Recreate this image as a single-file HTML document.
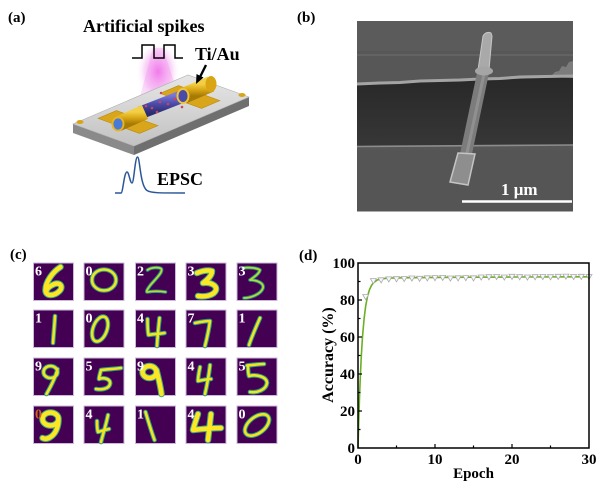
<!DOCTYPE html>
<html><head><meta charset="utf-8"><style>
html,body{margin:0;padding:0;background:#fff;}
svg{display:block;}
text{font-family:"Liberation Serif",serif;font-weight:bold;}
.o{fill:none;stroke:#2a9a8a;stroke-width:4.6;stroke-linecap:round;stroke-linejoin:round;}
.i{fill:none;stroke:#f2e51f;stroke-width:2.6;stroke-linecap:round;stroke-linejoin:round;}
.ot{fill:none;stroke:#3fae7e;stroke-width:6.5;stroke-linecap:round;stroke-linejoin:round;}
.it{fill:none;stroke:#fde725;stroke-width:4.5;stroke-linecap:round;stroke-linejoin:round;}
.on{fill:none;stroke:#23888e;stroke-width:3.6;stroke-linecap:round;stroke-linejoin:round;}
.in{fill:none;stroke:#b5de2b;stroke-width:1.8;stroke-linecap:round;stroke-linejoin:round;}
.lb{fill:#fff;font-size:14px;}
</style></head><body>
<svg width="600" height="484" viewBox="0 0 600 484" xmlns="http://www.w3.org/2000/svg">
<defs>
  <linearGradient id="top" x1="0" y1="0" x2="0" y2="1">
    <stop offset="0" stop-color="#e6e6e6"/><stop offset="1" stop-color="#c2c2c2"/>
  </linearGradient>
  <linearGradient id="gold" x1="0" y1="0" x2="0" y2="1">
    <stop offset="0" stop-color="#f3cf45"/><stop offset="0.5" stop-color="#d9a514"/><stop offset="1" stop-color="#a57a05"/>
  </linearGradient>
  <linearGradient id="nw" x1="0" y1="0" x2="0" y2="1">
    <stop offset="0" stop-color="#7a78d8"/><stop offset="0.5" stop-color="#4a4aa8"/><stop offset="1" stop-color="#2c2c70"/>
  </linearGradient>
  <radialGradient id="glow" cx="0.5" cy="0.4" r="0.5">
    <stop offset="0" stop-color="#f060e8" stop-opacity="0.85"/><stop offset="0.6" stop-color="#f3a0ee" stop-opacity="0.45"/><stop offset="1" stop-color="#ffffff" stop-opacity="0"/>
  </radialGradient>
  <linearGradient id="trench" x1="0" y1="0" x2="0" y2="1">
    <stop offset="0" stop-color="#282828"/><stop offset="1" stop-color="#373737"/>
  </linearGradient>
  <path id="tri" d="M-3,-2.2 L3,-2.2 L0,2.9 Z"/>
  <path id="d11" d="M27,4 C19,9 12,19 12,27 C12,34 21,33 26,28 C30,24 27,19 21,21 C16,23 13,26 13,28"/>
  <path id="d12" d="M8,17 A12,10.5 0 1,0 32,17 A12,10.5 0 1,0 8,17"/>
  <path id="d13" d="M12,7 C16,4 24,4 26,6 C27,10 20,16 15,22 C12,26 10,29 12,29 C18,28 24,28 30,29"/>
  <path id="d14" d="M11,10 C16,8 22,7 26,8 C26,13 21,17 17,20 C24,19 31,22 30,27 C28,33 18,34 12,33"/>
  <path id="d15" d="M6,5 C12,4 20,5 23,7 C22,11 17,14 13,17 C20,17 27,20 26,25 C24,31 14,35 7,35"/>
  <path id="d21" d="M21.5,6 C21,15 20,25 19.5,33"/>
  <ellipse id="d22" cx="0" cy="0" rx="7" ry="13" transform="translate(16,19) rotate(20)"/>
  <path id="d23" d="M12,9 C12,15 12,20 13,25 C18,24 23,24 29,23 M24,8 C23,17 22,27 21.5,36"/>
  <path id="d24" d="M9,13 C14,12 20,11 24,11 C23,19 21,28 19,36"/>
  <path id="d25" d="M23,8 C19,17 15,26 12,35"/>
  <path id="d31" d="M10,14 A7,6 0 1,0 24,14 A7,6 0 1,0 10,14 M24,11 C22,20 17,29 13,36"/>
  <path id="d32" d="M17,12 C24,11 31,11 37,10 M17,12 C16,16 15,19 15,21 C20,19 27,21 26,26 C25,31 17,32 12,31"/>
  <path id="d33" d="M7,14 A7,6 0 1,0 21,14 A7,6 0 1,0 7,14 M21,12 C23,20 25,28 26,36"/>
  <path id="d34" d="M14,9 C13,14 12,19 12,23 C17,22 21,21 25,21 M24,7 C23,17 21,27 19,36"/>
  <path id="d35" d="M10,7.5 C16,7 22,6 27,6 M11,8 C11,12 11,15 12,18 C20,16 30,19 30,25 C29,32 20,35 13,34"/>
  <path id="d41" d="M9,13 A8,6.5 0 1,0 25,13 A8,6.5 0 1,0 9,13 M25,13 C25,21 22,28 17,31 C14,33 11,33 9,32"/>
  <path id="d42" d="M13,15 C13,19 13,23 14,26 C17,25 21,24 25,23 M24,9 C22,19 19,28 17,36"/>
  <path id="d43" d="M10,6 C13,16 16,26 19,34"/>
  <path id="d44" d="M12,8 C10,14 8,20 7,24 C16,23 26,22 35,22 M25,8 C24,17 23,26 22,34"/>
  <ellipse id="d45" cx="0" cy="0" rx="14" ry="8" transform="translate(20,19) rotate(-38)"/>
</defs>

<!-- ========== Panel (a) ========== -->
<text x="8" y="22" font-size="15">(a)</text>
<text x="83" y="32" font-size="18">Artificial spikes</text>
<text x="195" y="60" font-size="18">Ti/Au</text>
<text x="157" y="185" font-size="18">EPSC</text>
<ellipse cx="158" cy="78" rx="22" ry="32" fill="url(#glow)"/>
<polygon points="153,48 163,48 180,100 138,104" fill="#f080ea" opacity="0.25"/>
<polyline points="132,58 142,58 142,45 154,45 154,58 164,58 164,45 175,45 175,58 183,58" fill="none" stroke="#000" stroke-width="1.5"/>
<polygon points="73,124 134,146 134,155 73,133" fill="#8a8a8a"/>
<polygon points="134,146 249,97 249,106 134,155" fill="#6f6f6f"/>
<polygon points="73,124 134,146 249,97 188,75" fill="url(#top)" stroke="#b0b0b0" stroke-width="0.6"/>
<ellipse cx="80" cy="122" rx="3.5" ry="2" fill="#d8a514"/>
<ellipse cx="242" cy="95" rx="3.5" ry="2" fill="#d8a514"/>
<polygon points="158,125.6 139.5,133.4 98.1,118.4 116.5,110.6" fill="#d9a51a" stroke="#b78a0c" stroke-width="0.6"/>
<polygon points="219.9,100.6 201.5,108.4 160.1,93.4 178.5,85.6" fill="#d9a51a" stroke="#b78a0c" stroke-width="0.6"/>
<line x1="140" y1="113" x2="186" y2="95" stroke="url(#nw)" stroke-width="13"/>
<circle cx="152" cy="108" r="1.3" fill="#d04060"/><circle cx="160" cy="102" r="1.3" fill="#d04060"/>
<circle cx="168" cy="104" r="1.3" fill="#d04060"/><circle cx="175" cy="99" r="1.3" fill="#d04060"/>
<circle cx="157" cy="112" r="1.3" fill="#d04060"/><circle cx="146" cy="106" r="1.3" fill="#d04060"/>
<circle cx="182" cy="107" r="1.3" fill="#d04060"/><circle cx="161" cy="93" r="1.2" fill="#d04060"/>
<line x1="118" y1="124" x2="145" y2="112" stroke="url(#gold)" stroke-width="15"/>
<ellipse cx="118" cy="124" rx="6.5" ry="7.5" fill="#e8b520"/>
<ellipse cx="118" cy="124" rx="4.6" ry="5.6" fill="#4a7ad8"/>
<line x1="183" y1="96" x2="211" y2="84" stroke="url(#gold)" stroke-width="16"/>
<ellipse cx="183" cy="96" rx="6.5" ry="8" fill="#efc535"/>
<ellipse cx="183" cy="96" rx="4.6" ry="6" fill="#4a4aa8"/>
<ellipse cx="211" cy="84" rx="5.5" ry="8" fill="#d9a514"/>
<line x1="206" y1="65" x2="200" y2="77" stroke="#000" stroke-width="2.4"/>
<polygon points="196,84 196.5,74 203.5,77.5" fill="#000"/>
<path d="M115,193 L121,193 C123,193 124,172 127,172 C129,172 130,183 132,183 C134,183 135,157 137.5,157 C140,157 140,186 147,190.5 C151,193 158,193 185,193" fill="none" stroke="#2b579a" stroke-width="1.5"/>

<!-- ========== Panel (b) ========== -->
<text x="297" y="22" font-size="15">(b)</text>
<rect x="357" y="21" width="216" height="190.5" fill="#575757"/>
<rect x="357" y="21" width="216" height="30" fill="#5b5b5b"/>
<line x1="357" y1="55" x2="573" y2="55" stroke="#636363" stroke-width="2"/>
<rect x="357" y="150" width="216" height="61" fill="#555"/>
<polygon points="357,84 573,77 573,145 357,147" fill="url(#trench)"/>
<polygon points="550,77 555,72 559,71 562,66 566,67 569,62 573,61 573,78" fill="#7c7c7c"/>
<polyline points="357,84 380,83 400,82.5 420,81 440,80.5 460,80 480,79 500,78.5 520,77 545,76.5 573,76" fill="none" stroke="#a4a4a4" stroke-width="3"/>
<line x1="357" y1="146.5" x2="573" y2="145" stroke="#8c8c8c" stroke-width="1.6"/>
<polygon points="477,73 489,73 472,154 460,154" fill="#7c7c7c"/>
<line x1="484" y1="74" x2="467" y2="153" stroke="#909090" stroke-width="3"/>
<path d="M478,70 L483,36 Q486,31 491,33 L492,36 L489,70 Z" fill="#a9a9a9" stroke="#c6c6c6" stroke-width="1"/>
<ellipse cx="484" cy="71" rx="9" ry="4.5" fill="#a5a5a5"/>
<polygon points="458,153 475,154 468,185 450,182" fill="#8e8e8e" stroke="#c4c4c4" stroke-width="1.5"/>
<line x1="462" y1="201.5" x2="572" y2="201.5" stroke="#fff" stroke-width="2.6"/>
<text x="501" y="195" font-size="17" fill="#fff">1 μm</text>

<!-- ========== Panel (c) ========== -->
<text x="10" y="259" font-size="15">(c)</text>
<g stroke="#cbb9d8" stroke-width="1" fill="#440154">
  <rect x="33.5" y="263" width="40" height="37.5"/><rect x="84" y="263" width="40" height="37.5"/><rect x="135.5" y="263" width="40" height="37.5"/><rect x="186" y="263" width="40" height="37.5"/><rect x="237" y="263" width="40" height="37.5"/>
  <rect x="33.5" y="310" width="40" height="37.5"/><rect x="84" y="310" width="40" height="37.5"/><rect x="135.5" y="310" width="40" height="37.5"/><rect x="186" y="310" width="40" height="37.5"/><rect x="237" y="310" width="40" height="37.5"/>
  <rect x="33.5" y="358" width="40" height="37.5"/><rect x="84" y="358" width="40" height="37.5"/><rect x="135.5" y="358" width="40" height="37.5"/><rect x="186" y="358" width="40" height="37.5"/><rect x="237" y="358" width="40" height="37.5"/>
  <rect x="33.5" y="406" width="40" height="37.5"/><rect x="84" y="406" width="40" height="37.5"/><rect x="135.5" y="406" width="40" height="37.5"/><rect x="186" y="406" width="40" height="37.5"/><rect x="237" y="406" width="40" height="37.5"/>
</g>
<g transform="translate(33.5,263)"><use href="#d11" class="ot"/><use href="#d11" class="it"/><text class="lb" x="1.5" y="12.5">6</text></g>
<g transform="translate(84,263)"><use href="#d12" class="o"/><use href="#d12" class="i"/><text class="lb" x="1.5" y="12.5">0</text></g>
<g transform="translate(135.5,263)"><use href="#d13" class="on"/><use href="#d13" class="in"/><text class="lb" x="1.5" y="12.5">2</text></g>
<g transform="translate(186,263)"><use href="#d14" class="ot"/><use href="#d14" class="it"/><text class="lb" x="1.5" y="12.5">3</text></g>
<g transform="translate(237,263)"><use href="#d15" class="on"/><use href="#d15" class="in"/><text class="lb" x="1.5" y="12.5">3</text></g>
<g transform="translate(33.5,310)"><use href="#d21" class="o"/><use href="#d21" class="i"/><text class="lb" x="1.5" y="12.5">1</text></g>
<g transform="translate(84,310)"><use href="#d22" class="o"/><use href="#d22" class="i"/><text class="lb" x="1.5" y="12.5">0</text></g>
<g transform="translate(135.5,310)"><use href="#d23" class="o"/><use href="#d23" class="i"/><text class="lb" x="1.5" y="12.5">4</text></g>
<g transform="translate(186,310)"><use href="#d24" class="o"/><use href="#d24" class="i"/><text class="lb" x="1.5" y="12.5">7</text></g>
<g transform="translate(237,310)"><use href="#d25" class="o"/><use href="#d25" class="i"/><text class="lb" x="1.5" y="12.5">1</text></g>
<g transform="translate(33.5,358)"><use href="#d31" class="o"/><use href="#d31" class="i"/><text class="lb" x="1.5" y="12.5">9</text></g>
<g transform="translate(84,358)"><use href="#d32" class="o"/><use href="#d32" class="i"/><text class="lb" x="1.5" y="12.5">5</text></g>
<g transform="translate(135.5,358)"><use href="#d33" class="ot"/><use href="#d33" class="it"/><text class="lb" x="1.5" y="12.5">9</text></g>
<g transform="translate(186,358)"><use href="#d34" class="o"/><use href="#d34" class="i"/><text class="lb" x="1.5" y="12.5">4</text></g>
<g transform="translate(237,358)"><use href="#d35" class="o"/><use href="#d35" class="i"/><text class="lb" x="1.5" y="12.5">5</text></g>
<g transform="translate(33.5,406)"><use href="#d41" class="ot"/><use href="#d41" class="it"/><text x="1.5" y="12.5" font-size="14" fill="#c8641e">0</text></g>
<g transform="translate(84,406)"><use href="#d42" class="o"/><use href="#d42" class="i"/><text class="lb" x="1.5" y="12.5">4</text></g>
<g transform="translate(135.5,406)"><use href="#d43" class="o"/><use href="#d43" class="i"/><text class="lb" x="1.5" y="12.5">1</text></g>
<g transform="translate(186,406)"><use href="#d44" class="ot"/><use href="#d44" class="it"/><text class="lb" x="1.5" y="12.5">4</text></g>
<g transform="translate(237,406)"><use href="#d45" class="o"/><use href="#d45" class="i"/><text class="lb" x="1.5" y="12.5">0</text></g>

<!-- ========== Panel (d) ========== -->
<text x="299" y="260" font-size="15">(d)</text>
<path d="M358,448 L358.77,419.9 L359.54,396.4 L360.31,376.8 L361.08,360.5 L361.85,346.8 L362.62,335.5 L364.16,318.1 L365.7,305.9 L367.6,295.9 L369.55,289.5 L371.5,285.4 L373.4,282.8 L377.25,280 L381.1,278.9 L388.8,278.1 L404.2,277.8 L435,277.4 L473.5,277.2 L512,277 L589,276.8" fill="none" stroke="#6ab023" stroke-width="1.6"/>
<g fill="#f8f8f8" stroke="#aaaaaa" stroke-width="0.8">
<use href="#tri" x="365.7" y="296.7"/><use href="#tri" x="373.4" y="280.8"/><use href="#tri" x="381.1" y="280"/><use href="#tri" x="388.8" y="279.1"/><use href="#tri" x="396.5" y="278.9"/>
<use href="#tri" x="404.2" y="278.7"/><use href="#tri" x="411.9" y="278.2"/><use href="#tri" x="419.6" y="278.5"/><use href="#tri" x="427.3" y="278"/><use href="#tri" x="435" y="277.8"/>
<use href="#tri" x="442.7" y="277.6"/><use href="#tri" x="450.4" y="278.2"/><use href="#tri" x="458.1" y="278"/><use href="#tri" x="465.8" y="277.8"/><use href="#tri" x="473.5" y="278"/>
<use href="#tri" x="481.2" y="277.2"/><use href="#tri" x="488.9" y="276.9"/><use href="#tri" x="496.6" y="276.7"/><use href="#tri" x="504.3" y="277.2"/><use href="#tri" x="512" y="276.5"/>
<use href="#tri" x="519.7" y="276.9"/><use href="#tri" x="527.4" y="277.2"/><use href="#tri" x="535.1" y="276.9"/><use href="#tri" x="542.8" y="276.7"/><use href="#tri" x="550.5" y="276.9"/>
<use href="#tri" x="558.2" y="276.5"/><use href="#tri" x="565.9" y="276.3"/><use href="#tri" x="573.6" y="276.7"/><use href="#tri" x="581.3" y="276.5"/><use href="#tri" x="589" y="276.7"/>
</g>
<rect x="358" y="263" width="231" height="185" fill="none" stroke="#000" stroke-width="1.5"/>
<g stroke="#000" stroke-width="1.2">
  <line x1="435" y1="448" x2="435" y2="444"/><line x1="512" y1="448" x2="512" y2="444"/>
  <line x1="396.5" y1="448" x2="396.5" y2="445.5"/><line x1="473.5" y1="448" x2="473.5" y2="445.5"/><line x1="550.5" y1="448" x2="550.5" y2="445.5"/>
  <line x1="358" y1="411" x2="362" y2="411"/><line x1="358" y1="374" x2="362" y2="374"/><line x1="358" y1="337" x2="362" y2="337"/><line x1="358" y1="300" x2="362" y2="300"/>
  <line x1="358" y1="429.5" x2="360.5" y2="429.5"/><line x1="358" y1="392.5" x2="360.5" y2="392.5"/><line x1="358" y1="355.5" x2="360.5" y2="355.5"/><line x1="358" y1="318.5" x2="360.5" y2="318.5"/><line x1="358" y1="281.5" x2="360.5" y2="281.5"/>
</g>
<g font-size="15" text-anchor="end">
  <text x="355" y="453">0</text><text x="355" y="416">20</text><text x="355" y="379">40</text><text x="355" y="342">60</text><text x="355" y="305">80</text><text x="355" y="268">100</text>
</g>
<g font-size="15" text-anchor="middle">
  <text x="358" y="464">0</text><text x="435" y="464">10</text><text x="512" y="464">20</text><text x="589" y="464">30</text>
</g>
<text x="473.5" y="478" font-size="15" text-anchor="middle">Epoch</text>
<text transform="translate(333,355) rotate(-90)" font-size="16" text-anchor="middle">Accuracy (%)</text>
</svg>
</body></html>
